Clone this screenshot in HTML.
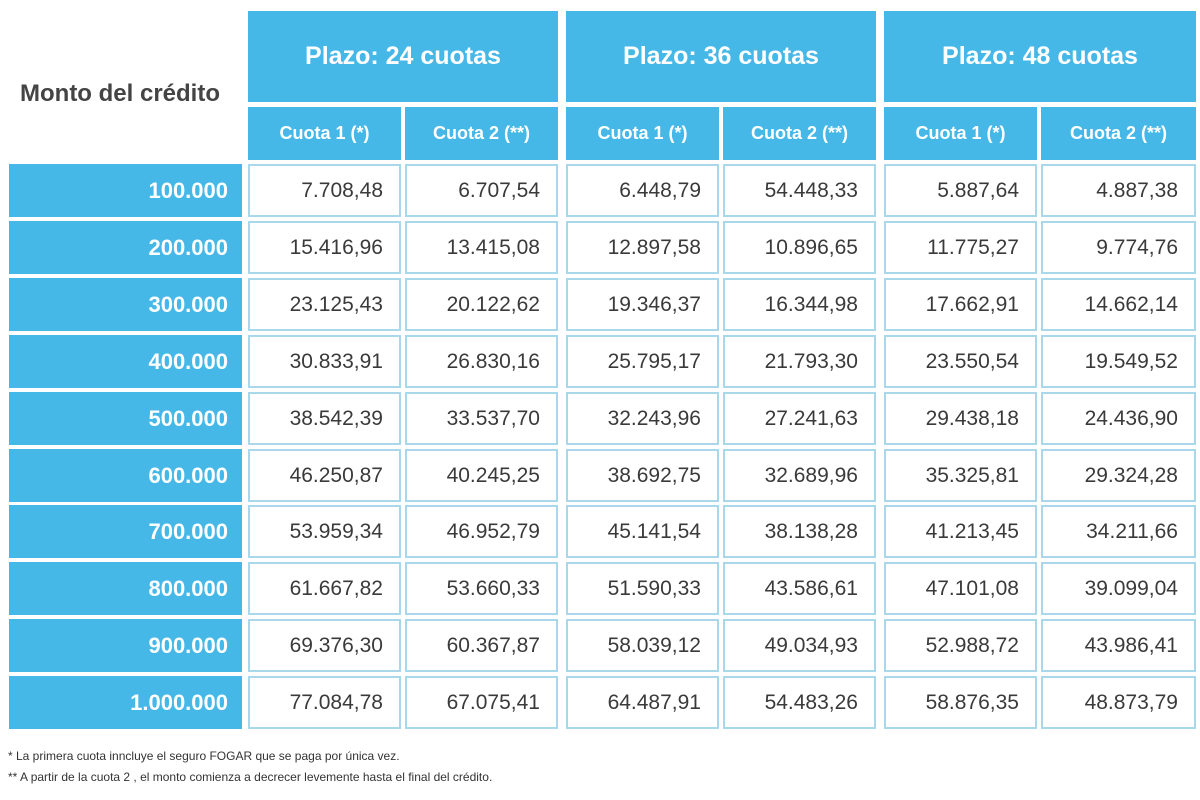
<!DOCTYPE html>
<html><head><meta charset="utf-8"><style>
body{margin:0;width:1200px;height:800px;background:#fff;position:relative;overflow:hidden;font-family:"Liberation Sans",sans-serif}
div{position:absolute;box-sizing:border-box}
.h{background:#45b8e8;color:#fff;font-weight:bold;display:flex;align-items:center;justify-content:center}
.g{top:11px;height:91px;font-size:25px}
.s{top:107px;height:53px;font-size:18px}
.l{left:9px;width:233px;height:53px;background:#45b8e8;color:#fff;font-weight:bold;font-size:22px;text-align:right;padding-right:14px;line-height:53px}
.c{height:53px;border:2px solid #a8d8ea;background:#fff;color:#3a3a3a;font-size:21px;text-align:right;padding-right:16px;line-height:50px}
.a{left:248px;width:153px}.b{left:405px;width:153px}.cc{left:566px;width:153px}.d{left:723px;width:153px}.e{left:884px;width:153px}.f{left:1041px;width:155px}
.n{left:8px;font-size:12px;color:#333}
</style></head><body>
<div style="left:20px;top:80px;font-size:24px;font-weight:bold;color:#444">Monto del crédito</div>
<div class="h g" style="left:248px;width:310px">Plazo: 24 cuotas</div>
<div class="h g" style="left:566px;width:310px">Plazo: 36 cuotas</div>
<div class="h g" style="left:884px;width:312px">Plazo: 48 cuotas</div>
<div class="h s a">Cuota 1 (*)</div><div class="h s b">Cuota 2 (**)</div>
<div class="h s cc">Cuota 1 (*)</div><div class="h s d">Cuota 2 (**)</div>
<div class="h s e">Cuota 1 (*)</div><div class="h s f">Cuota 2 (**)</div>
<div id="rows"></div>
<div class="n" style="top:749px">* La primera cuota inncluye el seguro FOGAR que se paga por única vez.</div>
<div class="n" style="top:770px">** A partir de la cuota 2 , el monto comienza a decrecer levemente hasta el final del crédito.</div>
<script>
var d=[["100.000","7.708,48","6.707,54","6.448,79","54.448,33","5.887,64","4.887,38"],
["200.000","15.416,96","13.415,08","12.897,58","10.896,65","11.775,27","9.774,76"],
["300.000","23.125,43","20.122,62","19.346,37","16.344,98","17.662,91","14.662,14"],
["400.000","30.833,91","26.830,16","25.795,17","21.793,30","23.550,54","19.549,52"],
["500.000","38.542,39","33.537,70","32.243,96","27.241,63","29.438,18","24.436,90"],
["600.000","46.250,87","40.245,25","38.692,75","32.689,96","35.325,81","29.324,28"],
["700.000","53.959,34","46.952,79","45.141,54","38.138,28","41.213,45","34.211,66"],
["800.000","61.667,82","53.660,33","51.590,33","43.586,61","47.101,08","39.099,04"],
["900.000","69.376,30","60.367,87","58.039,12","49.034,93","52.988,72","43.986,41"],
["1.000.000","77.084,78","67.075,41","64.487,91","54.483,26","58.876,35","48.873,79"]];
var cls=["a","b","cc","d","e","f"],h="";
d.forEach(function(r,i){var t=Math.round(164+56.9*i);
h+='<div class="l" style="top:'+t+'px">'+r[0]+'</div>';
for(var j=0;j<6;j++)h+='<div class="c '+cls[j]+'" style="top:'+t+'px">'+r[j+1]+'</div>';});
document.body.insertAdjacentHTML("beforeend",h);
</script>
</body></html>
